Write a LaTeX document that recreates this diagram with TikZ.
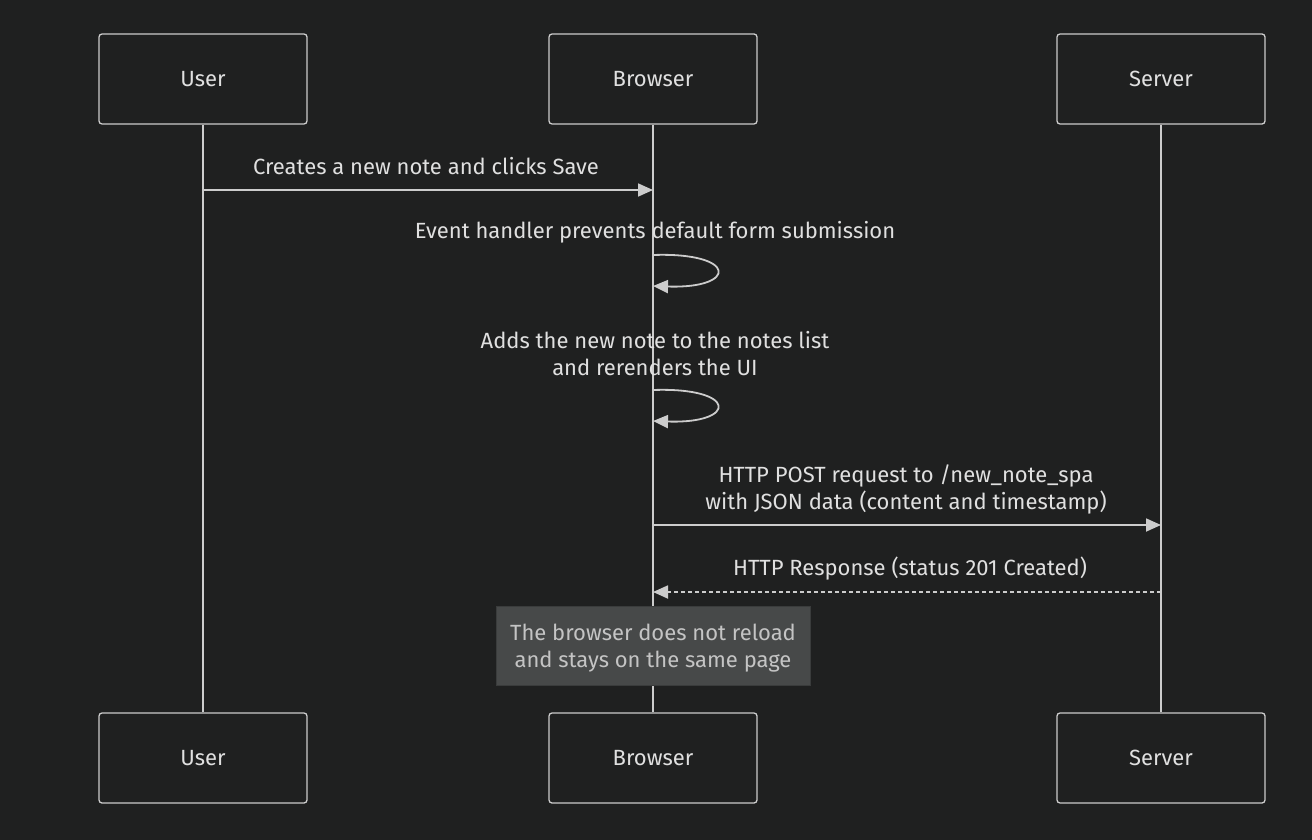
\documentclass[tikz,border=0pt]{standalone}
\usepackage{fontspec}
\setmainfont{Fira Sans}
\usetikzlibrary{arrows.meta}
\definecolor{bg}{HTML}{1F2020}
\definecolor{fg}{HTML}{CCCCCC}
\definecolor{txt}{HTML}{E0E0E0}
\definecolor{notebg}{HTML}{474949}
\definecolor{noteborder}{HTML}{3A3C3C}
\definecolor{notetxt}{HTML}{C4C4C4}
\tikzset{
  actorbox/.style={draw=fg, fill=bg, line width=1.3pt, rounded corners=3pt,
    minimum width=208pt, minimum height=90pt, inner sep=0pt,
    font=\fontsize{22}{26}\selectfont, text=txt},
  lifeline/.style={draw=fg, line width=2pt},
  msg/.style={draw=fg, line width=1.8pt, -{Triangle[length=15pt,width=13pt]}},
  dmsg/.style={msg, dash pattern=on 4pt off 3pt},
  msgtxt/.style={font=\fontsize{22}{27}\selectfont, text=txt, align=center, inner sep=0pt},
  notebox/.style={draw=noteborder, fill=notebg, line width=1pt,
    minimum width=314pt, minimum height=79pt, inner sep=0pt},
  notetext/.style={msgtxt, text=notetxt},
}
\begin{document}
\begin{tikzpicture}[x=1pt,y=-1pt]
\fill[bg] (0,0) rectangle (1312,840);
\useasboundingbox (0,0) rectangle (1312,840);
% actors
\node[actorbox] (u1) at (203,79) {User};
\node[actorbox] (b1) at (653,79) {Browser};
\node[actorbox] (s1) at (1161,79) {Server};
\node[actorbox] (u2) at (203,758) {User};
\node[actorbox] (b2) at (653,758) {Browser};
\node[actorbox] (s2) at (1161,758) {Server};
% lifelines
\draw[lifeline] (u1.south) -- (u2.north);
\draw[lifeline] (b1.south) -- (b2.north);
\draw[lifeline] (s1.south) -- (s2.north);
% message 1
\coordinate (m1u) at (203,190);
\coordinate (m1b) at (653,190);
\node[msgtxt] (t1) at (426,166.5) {Creates a new note and clicks Save};
\draw[msg] (m1u) -- (m1b);
% self 1
\node[msgtxt] (t2) at (655,232.5) {Event handler prevents default form submission};
\coordinate (l1a) at (653,255);
\coordinate (l1b) at (653,286);
\draw[msg] (l1a) .. controls (738,252) and (738,289) .. (l1b);
% self 2
\node[msgtxt] (t3) at (655,354) {Adds the new note to the notes list\\and rerenders the UI};
\coordinate (l2a) at (653,390);
\coordinate (l2b) at (653,421);
\draw[msg] (l2a) .. controls (738,387) and (738,424) .. (l2b);
% post
\node[msgtxt] (t4) at (906,489) {HTTP POST request to /new\_note\_spa\\with JSON data (content and timestamp)};
\coordinate (m4b) at (653,525);
\coordinate (m4s) at (1161,525);
\draw[msg] (m4b) -- (m4s);
% response
\node[msgtxt] (t5) at (910,568.5) {HTTP Response (status 201 Created)};
\coordinate (m5s) at (1161,592);
\coordinate (m5b) at (653,592);
\draw[dmsg] (m5s) -- (m5b);
% note
\node[notebox] (n) at (653,645.5) {};
\node[notetext] (nt) at (653,648.5) {The browser does not reload\\and stays on the same page};
\end{tikzpicture}
\end{document}
